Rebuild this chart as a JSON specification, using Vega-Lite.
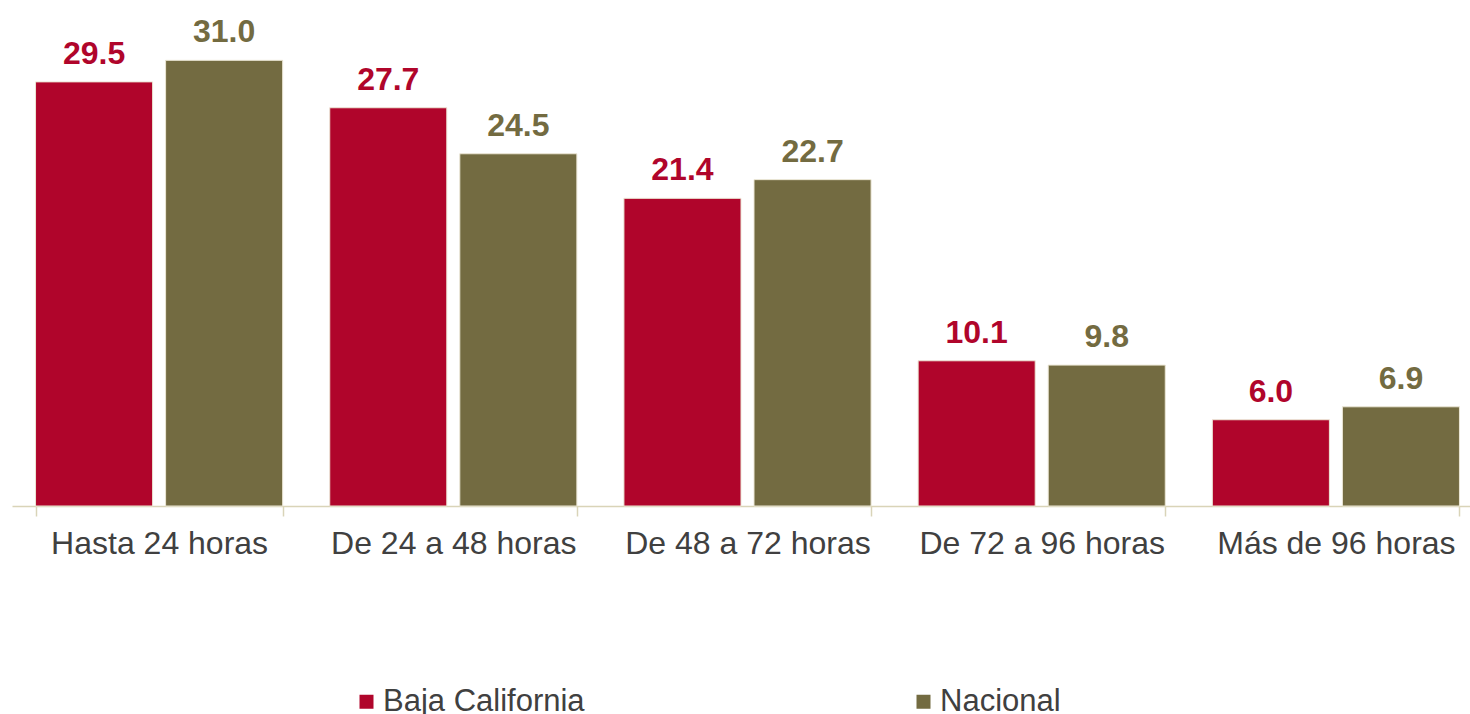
{
  "$schema": "https://vega.github.io/schema/vega-lite/v6.json",
  "width": 1458,
  "height": 496,
  "autosize": {"type": "none"},
  "padding": {"left": 12, "top": 10, "right": 0, "bottom": 208},
  "background": "white",
  "config": {"view": {"stroke": null}, "font": "Liberation Sans"},
  "data": {
    "values": [
      {"cat": "Hasta 24 horas", "serie": "Baja California", "v": 29.5},
      {"cat": "Hasta 24 horas", "serie": "Nacional", "v": 31.0},
      {"cat": "De 24 a 48 horas", "serie": "Baja California", "v": 27.7},
      {"cat": "De 24 a 48 horas", "serie": "Nacional", "v": 24.5},
      {"cat": "De 48 a 72 horas", "serie": "Baja California", "v": 21.4},
      {"cat": "De 48 a 72 horas", "serie": "Nacional", "v": 22.7},
      {"cat": "De 72 a 96 horas", "serie": "Baja California", "v": 10.1},
      {"cat": "De 72 a 96 horas", "serie": "Nacional", "v": 9.8},
      {"cat": "Más de 96 horas", "serie": "Baja California", "v": 6.0},
      {"cat": "Más de 96 horas", "serie": "Nacional", "v": 6.9}
    ]
  },
  "encoding": {
    "x": {
      "field": "cat", "type": "nominal", "sort": null,
      "scale": {"range": [0, 1471], "paddingInner": 0.16, "paddingOuter": 0.08},
      "axis": {
        "title": null, "labelAngle": 0, "labelFontSize": 32, "labelColor": "#404040",
        "labelFont": "Liberation Sans", "labelPadding": 12, "labelLimit": 0, "labelOverlap": false,
        "domainColor": "#d9d4b8", "domainWidth": 1.5,
        "tickColor": "#d9d4b8", "tickWidth": 1.5, "tickSize": 10, "tickBand": "extent"
      }
    },
    "xOffset": {"field": "serie", "type": "nominal", "scale": {"paddingInner": 0.1, "paddingOuter": 0}},
    "y": {"field": "v", "type": "quantitative", "scale": {"domain": [0, 34.5]}, "axis": null},
    "color": {
      "field": "serie", "type": "nominal",
      "scale": {"domain": ["Baja California", "Nacional"], "range": ["#b0052b", "#736b41"]},
      "legend": {
        "title": null, "orient": "none", "direction": "horizontal",
        "legendX": 339, "legendY": 676, "padding": 0,
        "symbolType": "square", "symbolSize": 196, "symbolStrokeWidth": 0,
        "labelFontSize": 31, "labelColor": "#404040", "labelFont": "Liberation Sans",
        "labelOffset": 1, "labelLimit": 0, "columnPadding": 323
      }
    }
  },
  "layer": [
    {"mark": {"type": "bar", "stroke": "#ece7d6", "strokeWidth": 1}},
    {
      "mark": {"type": "text", "fontSize": 32, "fontWeight": "bold", "baseline": "alphabetic", "dy": -18, "font": "Liberation Sans"},
      "encoding": {"text": {"field": "v", "type": "quantitative", "format": ".1f"}}
    }
  ]
}
